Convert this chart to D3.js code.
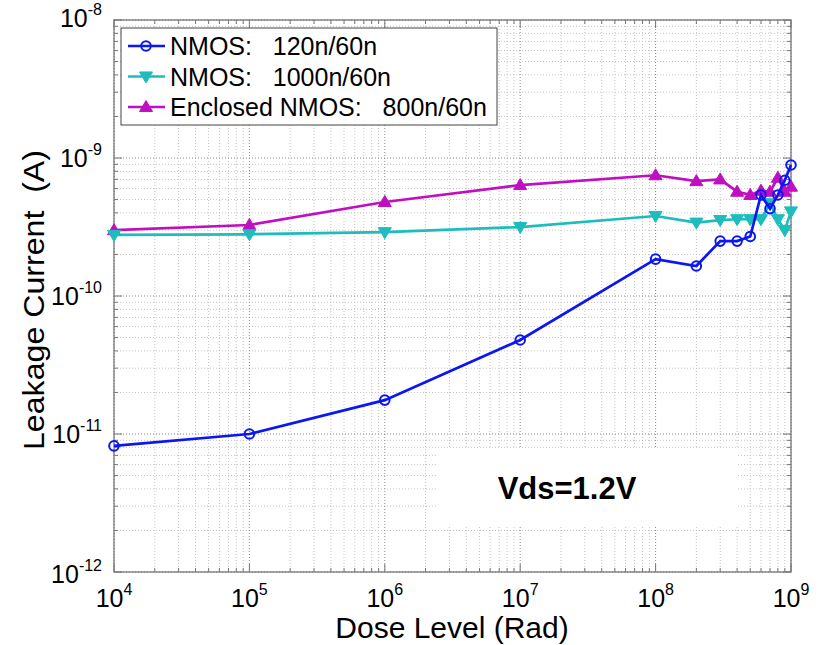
<!DOCTYPE html>
<html>
<head>
<meta charset="utf-8">
<script src="https://cdn.jsdelivr.net/npm/d3@7"></script>
<style>
  body { margin: 0; background: #fff; }
  text { font-family: Arial, "Liberation Sans", sans-serif; }
</style>
</head>
<body>
<div id="chart"></div>
<script>
// Data
const doses = [1e4, 1e5, 1e6, 1e7, 1e8, 2e8, 3e8, 4e8, 5e8, 6e8, 7e8, 8e8, 9e8, 1e9];
const nmos120 = [8.2e-12, 1.0e-11, 1.76e-11, 4.8e-11, 1.85e-10, 1.65e-10, 2.5e-10, 2.5e-10, 2.7e-10, 5.4e-10, 4.3e-10, 5.4e-10, 6.9e-10, 8.9e-10];
const nmos1000 = [2.77e-10, 2.8e-10, 2.9e-10, 3.16e-10, 3.8e-10, 3.4e-10, 3.55e-10, 3.6e-10, 3.6e-10, 3.6e-10, 4.7e-10, 3.6e-10, 3.0e-10, 4.1e-10];
const enclosed = [3.0e-10, 3.27e-10, 4.8e-10, 6.37e-10, 7.5e-10, 6.8e-10, 7.0e-10, 5.7e-10, 5.4e-10, 5.8e-10, 5.7e-10, 7.2e-10, 5.7e-10, 6.2e-10];

const xExponents = [4, 5, 6, 7, 8, 9];
const yExponents = [-8, -9, -10, -11, -12];

const series = [
    { name: "NMOS:   120n/60n", values: nmos120, color: "#0b16f2", marker: "circle" },
    { name: "NMOS:   1000n/60n", values: nmos1000, color: "#1dbdbd", marker: "down" },
    { name: "Enclosed NMOS:   800n/60n", values: enclosed, color: "#c00fc0", marker: "up" }
];

const width = 818, height = 645;
const margin = { left: 114, right: 27, top: 20, bottom: 73 };

const svg = d3.select("#chart").append("svg")
    .attr("width", width)
    .attr("height", height);

const x = d3.scaleLog().domain([1e4, 1e9]).range([margin.left, width - margin.right]);
const y = d3.scaleLog().domain([1e-12, 1e-8]).range([height - margin.bottom, margin.top]);

const [x0, x1] = x.range();
const [y0, y1] = y.range(); // y0 bottom, y1 top

// minor + major positions for grid
const xMinor = [], yMinor = [];
for (let e = 4; e < 9; e++) for (let m = 2; m <= 9; m++) xMinor.push(m * Math.pow(10, e));
for (let e = -12; e < -8; e++) for (let m = 2; m <= 9; m++) yMinor.push(m * Math.pow(10, e));
const xMajor = xExponents.map(e => Math.pow(10, e));
const yMajor = yExponents.map(e => Math.pow(10, e));

const grid = svg.append("g").attr("fill", "none").attr("stroke-dasharray", "1,2");

grid.selectAll("line.xm").data(xMinor).join("line")
    .attr("x1", d => x(d)).attr("x2", d => x(d))
    .attr("y1", y1).attr("y2", y0)
    .attr("stroke", "#c4c4c4");
grid.selectAll("line.ym").data(yMinor).join("line")
    .attr("y1", d => y(d)).attr("y2", d => y(d))
    .attr("x1", x0).attr("x2", x1)
    .attr("stroke", "#c4c4c4");
grid.selectAll("line.xM").data(xMajor).join("line")
    .attr("x1", d => x(d)).attr("x2", d => x(d))
    .attr("y1", y1).attr("y2", y0)
    .attr("stroke", "#8a8a8a");
grid.selectAll("line.yM").data(yMajor).join("line")
    .attr("y1", d => y(d)).attr("y2", d => y(d))
    .attr("x1", x0).attr("x2", x1)
    .attr("stroke", "#8a8a8a");

// white patch behind the annotation
svg.append("rect")
    .attr("x", 436).attr("y", 449)
    .attr("width", 302).attr("height", 76)
    .attr("fill", "#fff");

// inner ticks on all four sides
const ticks = svg.append("g").attr("stroke", "#777").attr("stroke-width", 1);
const xAll = xMinor.map(d => ({ v: d, len: 4 })).concat(xMajor.map(d => ({ v: d, len: 8 })));
const yAll = yMinor.map(d => ({ v: d, len: 4 })).concat(yMajor.map(d => ({ v: d, len: 8 })));
xAll.forEach(t => {
    ticks.append("line").attr("x1", x(t.v)).attr("x2", x(t.v)).attr("y1", y0).attr("y2", y0 - t.len);
    ticks.append("line").attr("x1", x(t.v)).attr("x2", x(t.v)).attr("y1", y1).attr("y2", y1 + t.len);
});
yAll.forEach(t => {
    ticks.append("line").attr("y1", y(t.v)).attr("y2", y(t.v)).attr("x1", x0).attr("x2", x0 + t.len);
    ticks.append("line").attr("y1", y(t.v)).attr("y2", y(t.v)).attr("x1", x1).attr("x2", x1 - t.len);
});

svg.append("rect")
    .attr("x", x0).attr("y", y1)
    .attr("width", x1 - x0).attr("height", y0 - y1)
    .attr("fill", "none").attr("stroke", "#777").attr("stroke-width", 1.3);

// tick labels
const xLabels = svg.append("g").selectAll("text").data(xExponents).join("text")
    .attr("x", d => x(Math.pow(10, d)))
    .attr("y", 607)
    .attr("text-anchor", "middle")
    .attr("font-size", 25)
    .attr("fill", "#000");
xLabels.append("tspan").text("10");
xLabels.append("tspan").attr("dy", -12).attr("font-size", 16).text(d => d);

// end labels sit inside the axis range, like MATLAB does
const yLabels = svg.append("g").selectAll("text").data(yExponents).join("text")
    .attr("x", 102)
    .attr("y", d => d === -8 ? 27 : d === -12 ? 583 : y(Math.pow(10, d)) + 9)
    .attr("text-anchor", "end")
    .attr("font-size", 25)
    .attr("fill", "#000");
yLabels.append("tspan").text("10");
yLabels.append("tspan").attr("dy", -12).attr("font-size", 16).text(d => d);

// axis titles
svg.append("text")
    .attr("x", 452).attr("y", 638)
    .attr("text-anchor", "middle")
    .attr("font-size", 30)
    .text("Dose Level (Rad)");

svg.append("text")
    .attr("transform", "translate(44,300) rotate(-90)")
    .attr("text-anchor", "middle")
    .attr("font-size", 29)
    .attr("textLength", 300)
    .attr("lengthAdjust", "spacingAndGlyphs")
    .style("white-space", "pre")
    .text("Leakage Current  (A)");

// markers
function drawMarker(sel, type, color) {
    if (type === "circle") {
        sel.append("circle").attr("r", 4.8)
            .attr("fill", "none").attr("stroke", color).attr("stroke-width", 2);
    } else {
        const s = 6.5;
        const pts = type === "up"
            ? [[0, -s], [s, s * 0.7], [-s, s * 0.7]]
            : [[0, s], [s, -s * 0.7], [-s, -s * 0.7]];
        sel.append("path").attr("d", "M" + pts.join("L") + "Z")
            .attr("fill", color).attr("stroke", color).attr("stroke-width", 1);
    }
}

const line = d3.line().x(d => x(d[0])).y(d => y(d[1]));

// draw in reverse so blue is on top
series.slice().reverse().forEach(s => {
    const pts = doses.map((d, i) => [d, s.values[i]]);
    svg.append("path")
        .datum(pts)
        .attr("d", line)
        .attr("fill", "none")
        .attr("stroke", s.color)
        .attr("stroke-width", 2.7);
    svg.append("g").selectAll("g").data(pts).join("g")
        .attr("transform", d => `translate(${x(d[0])},${y(d[1])})`)
        .each(function () { drawMarker(d3.select(this), s.marker, s.color); });
});

// annotation
svg.append("text")
    .attr("x", 567).attr("y", 499)
    .attr("text-anchor", "middle")
    .attr("font-size", 31)
    .attr("font-weight", "bold")
    .text("Vds=1.2V");

// legend
const legend = svg.append("g");
legend.append("rect")
    .attr("x", 121).attr("y", 28)
    .attr("width", 376).attr("height", 97)
    .attr("fill", "#fff").attr("stroke", "#444").attr("stroke-width", 1);

series.forEach((s, i) => {
    const cy = 46 + i * 30.5;
    const row = legend.append("g");
    row.append("line")
        .attr("x1", 128).attr("x2", 165)
        .attr("y1", cy).attr("y2", cy)
        .attr("stroke", s.color).attr("stroke-width", 2.5);
    drawMarker(row.append("g").attr("transform", `translate(146,${cy})`), s.marker, s.color);
    row.append("text")
        .attr("x", 170).attr("y", cy + 9)
        .attr("font-size", 25)
        .style("white-space", "pre")
        .text(s.name);
});
</script>
</body>
</html>
